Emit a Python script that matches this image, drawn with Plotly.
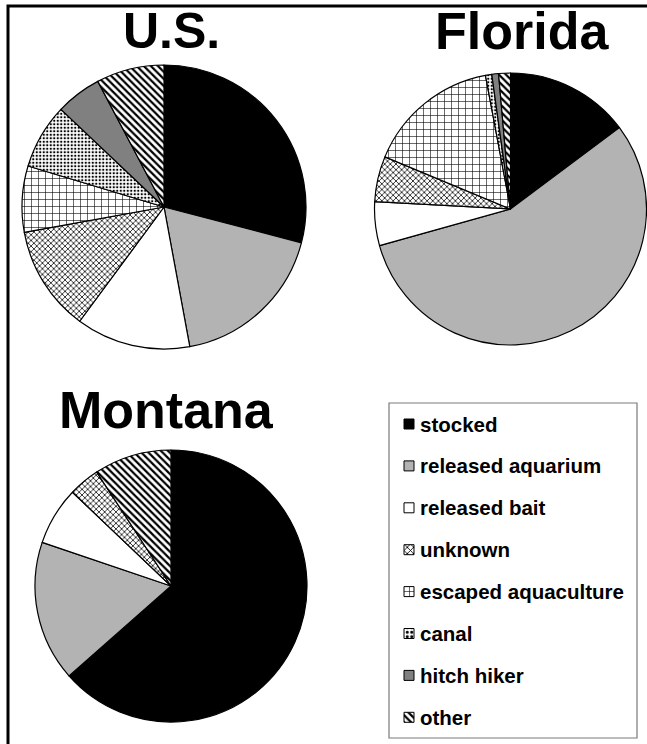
import plotly.graph_objects as go

# ---- data -----------------------------------------------------------------
categories = ["stocked", "released aquarium", "released bait", "unknown",
              "escaped aquaculture", "canal", "hitch hiker", "other"]
us_values = [29.0, 18.0, 13.0, 12.0, 7.5, 7.4, 5.2, 7.7]
florida_values = [14.8, 55.9, 5.2, 5.4, 15.8, 0.75, 0.8, 1.4]
montana_values = [63.5, 16.7, 6.9, 3.7, 0.0, 0.0, 0.0, 9.2]
region_titles = ["U.S.", "Florida", "Montana"]

# ---- styling ----------------------------------------------------------------
W, H = 647, 744
FONT = "Arial, Liberation Sans, sans-serif"

# fill colour and hatch per category: (colour, shape, tile size, solidity)
style = {
    "stocked":             ("#000000", "",   8, 0.3),
    "released aquarium":   ("#b3b3b3", "",   8, 0.3),
    "released bait":       ("#ffffff", "",   8, 0.3),
    "unknown":             ("#ffffff", "x",  4, 0.35),
    "escaped aquaculture": ("#ffffff", "+",  7, 0.16),
    "canal":               ("#ffffff", ".",  3.5, 0.35),
    "hitch hiker":         ("#808080", "",   8, 0.3),
    "other":               ("#ffffff", "\\", 5, 0.45),
}

# pie placement in pixels: centre x, centre y, radius
pie_geom = {
    "U.S.":    (164, 207, 142),
    "Florida": (510.5, 209, 136),
    "Montana": (171, 586, 136),
}
# title placement in pixels: centre x, middle y, font size
title_geom = {
    "U.S.":    (171, 31, 50),
    "Florida": (522, 31, 52),
    "Montana": (166, 410, 52),
}


def px_domain(cx, cy, r):
    return dict(x=[(cx - r) / W, (cx + r) / W],
                y=[1 - (cy + r) / H, 1 - (cy - r) / H])


fig = go.Figure()

for name, values in zip(region_titles, [us_values, florida_values, montana_values]):
    labs = [c for c, v in zip(categories, values) if v > 0]
    vals = [v for v in values if v > 0]
    cols = [style[c][0] for c in labs]
    fig.add_trace(go.Pie(
        labels=labs, values=vals, sort=False, direction="clockwise",
        rotation=0, textinfo="none", hoverinfo="label+percent",
        showlegend=False, domain=px_domain(*pie_geom[name]),
        marker=dict(
            colors=cols,
            line=dict(color="black", width=1.2),
            pattern=dict(
                shape=[style[c][1] for c in labs],
                size=[style[c][2] for c in labs],
                solidity=[style[c][3] for c in labs],
                fgcolor="black",
                bgcolor=cols,
                fillmode="replace",
            ),
        ),
    ))

# ---- legend drawn on a pixel-scaled helper axis ------------------------------
LX0, LY0, LX1, LY1 = 389, 403, 637, 738
SW_X, SW_Y0, SW_STEP, SW = 404, 424, 41.9, 10

annotations = []
for i, cat in enumerate(categories):
    color, shape, size, sol = style[cat]
    yc = SW_Y0 + i * SW_STEP
    x0, x1 = SW_X, SW_X + SW
    y0, y1 = yc - SW / 2, yc + SW / 2
    fp = dict(shape=shape, size=max(size, 4.5) if shape else 8, solidity=sol,
              fgcolor="black", bgcolor=color, fillmode="replace")
    fig.add_trace(go.Scatter(
        x=[x0, x1, x1, x0, x0], y=[y0, y0, y1, y1, y0],
        mode="lines", fill="toself", fillcolor=color, fillpattern=fp,
        line=dict(color="black", width=1), hoverinfo="skip",
        showlegend=False, xaxis="x", yaxis="y",
    ))
    annotations.append(dict(
        x=x1 + 4, y=yc, xref="x", yref="y", text=cat, showarrow=False,
        xanchor="left", yanchor="middle",
        font=dict(family=FONT, size=20.5, color="black", weight="bold"),
    ))

for name in region_titles:
    tx, ty, fs = title_geom[name]
    annotations.append(dict(
        x=tx, y=ty, xref="x", yref="y", text=name, showarrow=False,
        xanchor="center", yanchor="middle",
        font=dict(family=FONT, size=fs, color="black", weight="bold"),
    ))

shapes = [
    # outer frame
    dict(type="rect", xref="x", yref="y", x0=8, y0=6, x1=700, y1=800,
         line=dict(color="black", width=3), layer="above"),
    # legend box
    dict(type="rect", xref="x", yref="y", x0=LX0, y0=LY0, x1=LX1, y1=LY1,
         line=dict(color="#7a7a7a", width=1.2), layer="below"),
]

fig.update_layout(
    width=W, height=H, autosize=False,
    margin=dict(l=0, r=0, t=0, b=0),
    paper_bgcolor="white", plot_bgcolor="white",
    xaxis=dict(range=[0, W], domain=[0, 1], visible=False, fixedrange=True),
    yaxis=dict(range=[H, 0], domain=[0, 1], visible=False, fixedrange=True),
    annotations=annotations, shapes=shapes,
    showlegend=False,
)

fig.write_html("out.html")
